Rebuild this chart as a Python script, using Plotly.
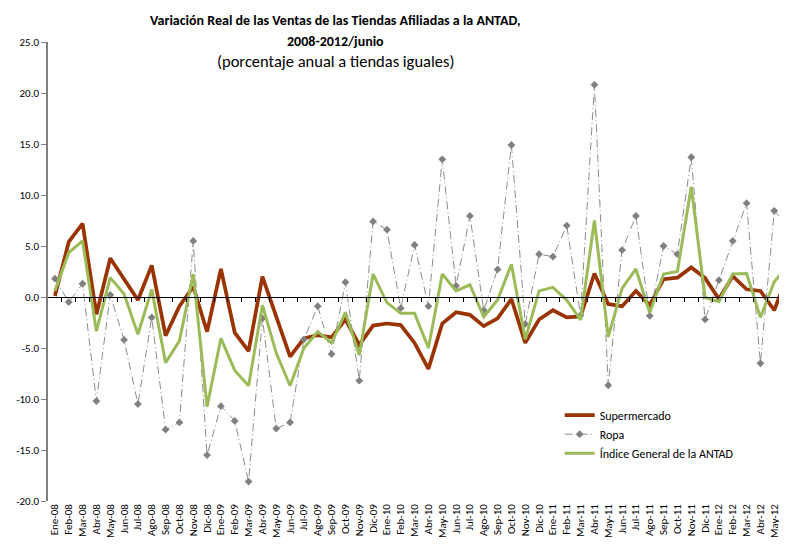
import plotly.graph_objects as go

months = ["Ene", "Feb", "Mar", "Abr", "May", "Jun", "Jul", "Ago", "Sep", "Oct", "Nov", "Dic"]
categories = [f"{m}-{y:02d}" for y in range(8, 13) for m in months][:54]

supermercado = [0.1, 5.4, 7.2, -1.7, 3.8, 1.8, -0.3, 3.1, -3.8, -0.9, 1.0, -3.4,
                2.75, -3.5, -5.3, 2.0, -1.9, -5.85, -4.05, -3.75, -3.95, -2.2, -4.7, -2.8,
                -2.6, -2.75, -4.5, -7.05, -2.6, -1.5, -1.75, -2.85, -2.1, -0.2, -4.5, -2.2,
                -1.3, -2.0, -1.9, 2.3, -0.7, -0.9, 0.6, -0.8, 1.75, 1.9, 2.9, 1.85,
                -0.2, 2.05, 0.75, 0.6, -1.3, 2.3]
ropa = [1.8, -0.5, 1.3, -10.2, 0.2, -4.2, -10.5, -2.0, -13.0, -12.3, 5.5, -15.5,
        -10.7, -12.15, -18.1, -2.1, -12.9, -12.3, -4.15, -0.9, -5.6, 1.45, -8.2, 7.4,
        6.6, -1.1, 5.1, -0.9, 13.5, 1.1, 7.95, -1.3, 2.7, 14.9, -2.65, 4.2,
        3.95, 7.0, -1.8, 20.8, -8.65, 4.6, 7.95, -1.85, 5.0, 4.2, 13.7, -2.2,
        1.65, 5.5, 9.2, -6.5, 8.45, 7.0]
indice = [0.6, 4.35, 5.5, -3.35, 1.9, 0.3, -3.65, 0.75, -6.45, -4.3, 2.25, -10.75,
          -4.05, -7.2, -8.7, -0.8, -5.5, -8.7, -5.0, -3.4, -4.5, -1.5, -5.7, 2.25,
          -0.55, -1.6, -1.6, -5.0, 2.25, 0.6, 1.2, -1.95, -0.3, 3.2, -4.15, 0.6,
          0.95, -0.3, -2.25, 7.5, -3.9, 0.85, 2.75, -1.55, 2.25, 2.5, 10.8, -0.05,
          -0.45, 2.25, 2.3, -2.0, 1.5, 3.1]

y_ticks = [-20, -15, -10, -5, 0, 5, 10, 15, 20, 25]

idx = list(range(len(categories)))
label_idx = idx[:-1]  # last month falls at the cut-off right edge
FONT = "Carlito, Liberation Sans Narrow, Lato, sans-serif"

fig = go.Figure()
fig.add_trace(go.Scatter(x=idx, y=supermercado, name="Supermercado", mode="lines",
                         line=dict(color="#993300", width=3.7), legendgroup="a"))
fig.add_trace(go.Scatter(x=idx, y=ropa, name="Ropa", mode="lines+markers",
                         line=dict(color="#8c8c8c", width=1, dash="8px,3px,1px,3px"),
                         marker=dict(symbol="diamond", size=6, color="#808080"),
                         legendgroup="b"))
fig.add_trace(go.Scatter(x=idx, y=indice, name="Índice General de la ANTAD", mode="lines",
                         line=dict(color="#9BBB59", width=3), legendgroup="c"))
# empty helper trace so the bottom category-label axis is drawn
fig.add_trace(go.Scatter(x=[], y=[], xaxis="x2", yaxis="y", showlegend=False,
                         hoverinfo="skip"))

xr = [-0.5, 53.5]
fig.update_layout(
    width=787, height=547,
    margin=dict(l=40, r=0, t=34, b=54, autoexpand=False),
    paper_bgcolor="white", plot_bgcolor="white",
    font=dict(family=FONT, size=11, color="#000000"),
    showlegend=True,
    legend=dict(x=0.685, y=0.2186, xanchor="left", yanchor="top",
                font=dict(family=FONT, size=12, color="#000000"),
                bgcolor="rgba(0,0,0,0)", tracegroupgap=9.5, traceorder="normal"),
    # zero-crossing axis (line + ticks between categories)
    xaxis=dict(range=xr, anchor="free", position=20 / 45, side="bottom",
               showline=True, linecolor="#000000", linewidth=1.3,
               tickmode="array", tickvals=[i + 0.5 for i in idx], ticks="outside",
               ticklen=4, tickcolor="#000000", showticklabels=False,
               showgrid=False, zeroline=False, automargin=False),
    # bottom category labels
    xaxis2=dict(range=xr, overlaying="x", anchor="y", side="bottom",
                tickmode="array", tickvals=label_idx, ticktext=categories[:-1],
                tickangle=-90, showline=False, showgrid=False, zeroline=False,
                ticks="", automargin=False,
                tickfont=dict(family=FONT, size=11, color="#000000")),
    yaxis=dict(range=[-20, 25], anchor="x", tickmode="array", tickvals=y_ticks,
               ticktext=[f"{v:.1f}" for v in y_ticks], showline=True,
               linecolor="#7f7f7f", linewidth=1.5, ticks="outside", ticklen=5,
               tickwidth=1.2, tickcolor="#7f7f7f", showgrid=False, zeroline=False,
               automargin=False,
               tickfont=dict(family=FONT, size=11, color="#000000")),
)

title_x = (335 - 8 - 40) / 747
def py(pix):
    return (493 - (pix - 8)) / 459

fig.add_annotation(text="<b>Variación Real de las Ventas de las Tiendas Afiliadas a la ANTAD,</b>",
                   x=title_x, y=py(20), xref="paper", yref="paper", showarrow=False,
                   font=dict(family=FONT, size=14, color="#000000"), yanchor="middle")
fig.add_annotation(text="<b>2008-2012/junio</b>",
                   x=title_x, y=py(41), xref="paper", yref="paper", showarrow=False,
                   font=dict(family=FONT, size=14, color="#000000"), yanchor="middle")
fig.add_annotation(text="(porcentaje anual a tiendas iguales)",
                   x=title_x, y=py(61), xref="paper", yref="paper", showarrow=False,
                   font=dict(family=FONT, size=16.5, color="#000000"), yanchor="middle")

fig.write_html("out.html")
